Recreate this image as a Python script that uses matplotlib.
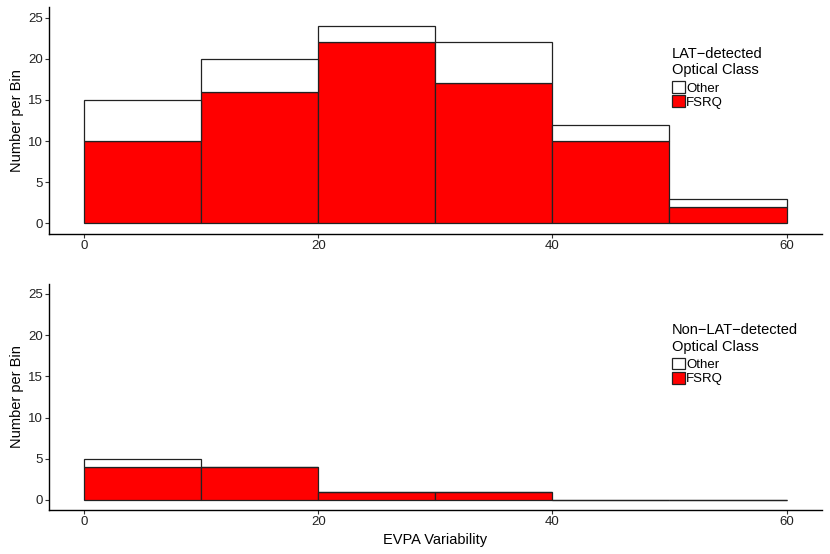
import matplotlib
matplotlib.use('Agg')
import matplotlib.pyplot as plt
import numpy as np
from matplotlib.patches import Patch

plt.rcParams['font.family'] = ['Liberation Sans', 'DejaVu Sans']

bin_left = [0, 10, 20, 30, 40, 50]
bin_width = 10

# LAT-detected
lat_fsrq = [10, 16, 22, 17, 10, 2]
lat_other = [5, 4, 2, 5, 2, 1]

# non LAT-detected
nonlat_fsrq = [4, 4, 1, 1, 0, 0]
nonlat_other = [1, 0, 0, 0, 0, 0]

yticks = [0, 5, 10, 15, 20, 25]
xticks = [0, 20, 40, 60]

fig = plt.figure(figsize=(8.3, 5.54), dpi=100)
ax1 = fig.add_axes([0.059, 0.578, 0.931, 0.409])
ax2 = fig.add_axes([0.059, 0.079, 0.931, 0.409])

panels = [(ax1, lat_fsrq, lat_other, 'LAT\u2212detected\nOptical Class'),
          (ax2, nonlat_fsrq, nonlat_other, 'Non\u2212LAT\u2212detected\nOptical Class')]

for ax, fsrq, other, title in panels:
    x = np.array(bin_left) + bin_width / 2
    ax.bar(x, fsrq, width=bin_width, color='#ff0000', edgecolor='#222222', linewidth=0.9)
    ax.bar(x, other, bottom=fsrq, width=bin_width, color='white', edgecolor='#222222', linewidth=0.9)
    ax.set_xlim(-3, 63)
    ax.set_ylim(-1.25, 26.25)
    ax.set_xticks(xticks)
    ax.set_yticks(yticks)
    ax.spines['top'].set_visible(False)
    ax.spines['right'].set_visible(False)
    ax.spines['left'].set_linewidth(1.0)
    ax.spines['bottom'].set_linewidth(1.0)
    ax.tick_params(axis='both', length=3, width=0.8, color='#333333', labelsize=9.5, labelcolor='#222222', pad=1.5)
    ax.set_ylabel('Number per Bin', fontsize=10.5, labelpad=3)
    handles = [Patch(facecolor='white', edgecolor='#222222', linewidth=0.9, label='Other'),
               Patch(facecolor='#ff0000', edgecolor='#222222', linewidth=0.9, label='FSRQ')]
    leg = ax.legend(handles=handles, title=title, loc='upper left', bbox_to_anchor=(0.806, 0.825),
                    frameon=False, fontsize=9.5, title_fontsize=10.5, handlelength=1.0, handleheight=1.0,
                    handletextpad=0.1, labelspacing=0.05, borderaxespad=0, borderpad=0)
    leg._legend_box.align = 'left'
    leg._legend_box.sep = 3

ax2.set_xlabel('EVPA Variability', fontsize=10.5, labelpad=3)

fig.savefig('out.png', dpi=100)
